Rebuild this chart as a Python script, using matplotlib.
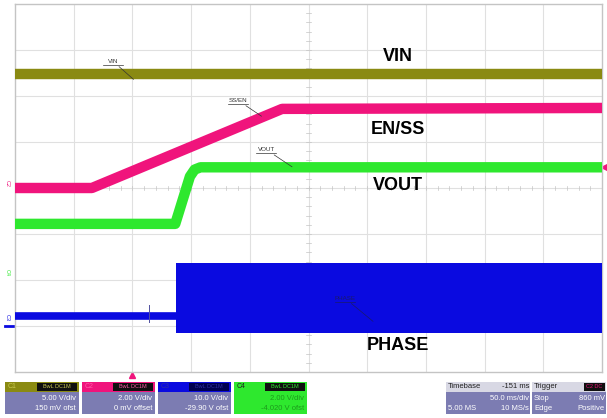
import matplotlib
matplotlib.use("Agg")
from matplotlib import pyplot as plt
from matplotlib.patches import Rectangle
import numpy as np

plt.rcParams['font.family'] = ['Liberation Sans', 'DejaVu Sans']

# ---- trace data, in scope divisions (x: 0..10, y: -4..4, 0 = centre line) ----
vinX = [0.0, 10.0]
vinY = [2.48, 2.48]

ssX = [0.0, 1.31, 4.55, 10.0]
ssY = [0.0, 0.0, 1.72, 1.74]

voutX = [0.0, 2.73, 2.98, 3.06, 3.16, 10.0]
voutY = [-0.78, -0.78, 0.25, 0.40, 0.45, 0.45]

phaseIdleX = [0.0, 2.74]
phaseIdleY = [-2.78, -2.78]
phaseSpikeX = [2.28, 2.28]
phaseSpikeY = [-2.55, -2.92]
phaseBlockX = [2.74, 10.0]
phaseBlockTop = [-1.63, -1.63]
phaseBlockBottom = [-3.15, -3.15]

# big labels: text, x, y
bigLabels = [("VIN", 6.52, 2.85), ("EN/SS", 6.52, 1.28), ("VOUT", 6.52, 0.06), ("PHASE", 6.52, -3.43)]

# small scope labels: text, text pos, leader end
smallLabels = [("VIN", (1.67, 2.70), (2.02, 2.36)),
               ("SS/EN", (3.80, 1.85), (4.20, 1.56)),
               ("VOUT", (4.28, 0.78), (4.72, 0.46)),
               ("PHASE", (5.62, -2.45), (6.10, -2.90))]

# channel info boxes
channelNames = ["C1", "C2", "C3", "C4"]
channelVdiv = ["5.00 V/div", "2.00 V/div", "10.0 V/div", "2.00 V/div"]
channelOffset = ["150 mV ofst", "0 mV offset", "-29.90 V ofst", "-4.020 V ofst"]

colVin = "#8a8a12"
colSs = "#f0147c"
colVout = "#2ee82e"
colPhase = "#0a0ae0"
boxBody = "#7c7cb2"

W, H = 607, 418
fig = plt.figure(figsize=(W / 100, H / 100), dpi=100)
fig.patch.set_facecolor("white")

# plot area in pixels: x 15..602, y 4..372
ax = fig.add_axes([15 / W, 1 - 372 / H, 587 / W, 368 / H])
ax.set_xlim(0, 10)
ax.set_ylim(-4, 4)
ax.set_xticks([])
ax.set_yticks([])
for s in ax.spines.values():
    s.set_color("#c4c4c4")
    s.set_linewidth(1.0)

# grid
for gx in range(1, 10):
    ax.axvline(gx, color="#e0e0e0", lw=0.8, zorder=0)
for gy in range(-3, 4):
    ax.axhline(gy, color="#e0e0e0", lw=0.8, zorder=0)
# minor ticks on the centre cross
for tx in np.arange(0, 10.01, 0.2):
    ax.plot([tx, tx], [-0.05, 0.05], color="#c4c4c4", lw=0.5, zorder=0)
for ty in np.arange(-4, 4.01, 0.2):
    ax.plot([4.95, 5.05], [ty, ty], color="#c4c4c4", lw=0.5, zorder=0)

# traces
ax.plot(vinX, vinY, color=colVin, lw=7.5, solid_capstyle="butt", zorder=3)
ax.plot(ssX, ssY, color=colSs, lw=7.5, solid_joinstyle="round", solid_capstyle="butt", zorder=3)
ax.plot(voutX, voutY, color=colVout, lw=7.5, solid_joinstyle="round", solid_capstyle="butt", zorder=3)
ax.plot(phaseIdleX, phaseIdleY, color=colPhase, lw=5.5, solid_capstyle="butt", zorder=3)
ax.plot(phaseSpikeX, phaseSpikeY, color="#5050a0", lw=0.7, zorder=3)
ax.fill_between(phaseBlockX, phaseBlockBottom, phaseBlockTop, color=colPhase, lw=0, zorder=3)

# small labels with leader lines
for txt, (tx, ty), (ex, ey) in smallLabels:
    c = "#1a1a6a" if txt == "PHASE" else "#333333"
    ax.annotate(txt, xy=(ex, ey), xytext=(tx, ty), fontsize=4.5, color=c, ha="center", va="bottom",
                arrowprops=dict(arrowstyle="-", color=c, lw=0.5, shrinkA=0, shrinkB=0), zorder=5)
    ax.plot([tx - 0.17, tx + 0.17], [ty - 0.02, ty - 0.02], color=c, lw=0.5, zorder=5)

# big labels
for txt, tx, ty in bigLabels:
    ax.text(tx, ty, txt, fontsize=13, fontweight="bold", color="black", ha="center", va="center", zorder=6)

# channel markers on the left, trigger markers
ax.text(-0.13, 0.09, "C2", color=colSs, fontsize=4, rotation=-90, ha="center", va="center", clip_on=False)
ax.text(-0.13, -1.83, "C4", color=colVout, fontsize=4, rotation=-90, ha="center", va="center", clip_on=False)
ax.text(-0.13, -2.82, "C3", color=colPhase, fontsize=4, rotation=-90, ha="center", va="center", clip_on=False)
ax.plot([-0.17, -0.04], [-2.99, -2.99], color=colPhase, lw=2, clip_on=False)
ax.plot([10.04], [0.46], marker="<", color=colSs, markersize=4, clip_on=False)
ax.plot([2.0], [-4.07], marker="^", color=colSs, markersize=4, clip_on=False)


# ---- info bar (pixel coords, top-left origin) ----
def box(x0, y0, x1, y1, color, z=1):
    fig.add_artist(Rectangle((x0 / W, 1 - y1 / H), (x1 - x0) / W, (y1 - y0) / H,
                             transform=fig.transFigure, facecolor=color, edgecolor="none", zorder=z))


def ftext(x, y, s, color="white", ha="right", size=5.5, weight="normal"):
    fig.text(x / W, 1 - y / H, s, color=color, ha=ha, va="center", fontsize=size, fontweight=weight)


headerColors = [colVin, colSs, colPhase, colVout]
labelColors = ["#c8c850", "#ff5aa8", "#3030a0", "#2ee82e"]
boxX = [(5, 79), (82, 155), (158, 231), (234, 307)]
for i in range(4):
    x0, x1 = boxX[i]
    body = colVout if i == 3 else boxBody
    box(x0, 382, x1, 414, body)
    box(x0, 382, x1, 392, headerColors[i], 2)
    box(x1 - 42, 383, x1 - 2, 391, "#101010" if i != 2 else "#000050", 3)
    ftext(x0 + 3, 387, channelNames[i], color="#202020" if i == 3 else labelColors[i], ha="left", size=5)
    ftext(x1 - 22, 387, "BwL DC1M", color=labelColors[i], ha="center", size=4)
    tc = "#1c9a1c" if i == 3 else "white"
    ftext(x1 - 3, 398, channelVdiv[i], color=tc)
    ftext(x1 - 3, 408.5, channelOffset[i], color=tc)

# timebase box
box(446, 382, 530, 414, boxBody)
box(446, 382, 530, 392, "#d8d8e4", 2)
ftext(448, 387, "Timebase", color="#202020", ha="left")
ftext(529, 387, "-151 ms", color="#202020")
ftext(529, 398, "50.0 ms/div")
ftext(448, 408.5, "5.00 MS", ha="left")
ftext(529, 408.5, "10 MS/s")

# trigger box
box(532, 382, 606, 414, boxBody)
box(532, 382, 606, 392, "#d8d8e4", 2)
box(584, 383, 605, 391, "#101010", 3)
ftext(534, 387, "Trigger", color="#202020", ha="left")
ftext(594.5, 387, "C2 DC", color=colSs, ha="center", size=4)
ftext(534, 398, "Stop", ha="left")
ftext(605, 398, "860 mV")
ftext(534, 408.5, "Edge", ha="left")
ftext(605, 408.5, "Positive")

fig.savefig("out.png", dpi=100, facecolor="white")
